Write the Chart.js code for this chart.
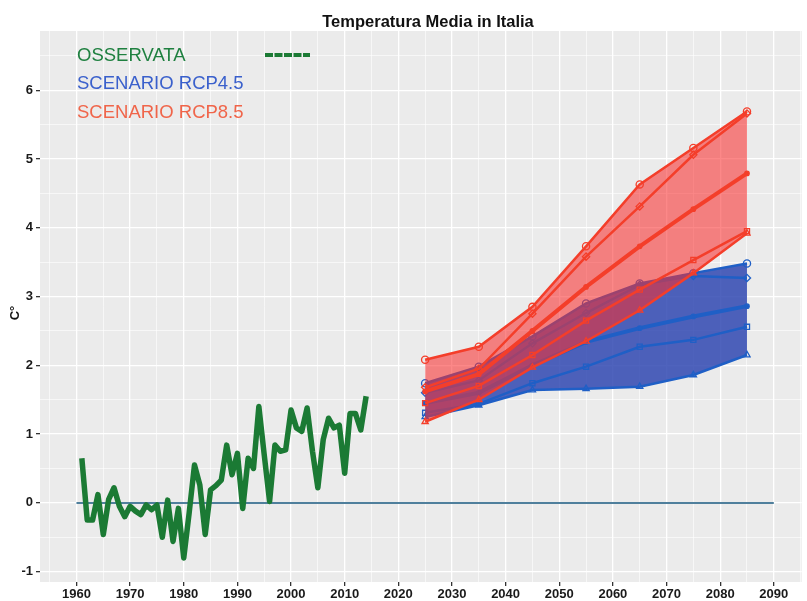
<!DOCTYPE html>
<html>
<head>
<meta charset="utf-8">
<script src="https://cdn.jsdelivr.net/npm/chart.js@4/dist/chart.umd.min.js"></script>
<style>
html,body{margin:0;padding:0;background:#fff;}
#wrap{width:807px;height:601px;position:relative;}
</style>
</head>
<body>
<div id="wrap"><canvas id="c" width="807" height="601"></canvas></div>
<script>
// ---- data ----
const obsYears = [1961,1962,1963,1964,1965,1966,1967,1968,1969,1970,1971,1972,1973,1974,1975,1976,1977,1978,1979,1980,
  1981,1982,1983,1984,1985,1986,1987,1988,1989,1990,1991,1992,1993,1994,1995,1996,1997,1998,1999,2000,
  2001,2002,2003,2004,2005,2006,2007,2008,2009,2010,2011,2012,2013,2014];
const obsValues = [0.65,-0.25,-0.25,0.12,-0.46,0.05,0.22,-0.05,-0.2,-0.05,-0.12,-0.17,-0.03,-0.1,-0.03,-0.5,0.04,-0.56,-0.08,-0.8,
  -0.15,0.55,0.26,-0.46,0.19,0.25,0.33,0.84,0.41,0.72,-0.08,0.65,0.5,1.4,0.7,0.02,0.84,0.75,0.77,1.35,
  1.09,1.04,1.38,0.75,0.22,0.92,1.23,1.09,1.13,0.43,1.3,1.3,1.06,1.55];

const projYears = [2025,2035,2045,2055,2065,2075,2085];
const rcp45Circle   = [1.74,1.98,2.42,2.90,3.19,3.34,3.48];
const rcp45Diamond  = [1.60,1.78,2.32,2.76,3.17,3.30,3.27];
const rcp45Median   = [1.45,1.60,2.00,2.34,2.54,2.71,2.86];
const rcp45Square   = [1.31,1.44,1.74,1.98,2.27,2.37,2.56];
const rcp45Triangle = [1.25,1.42,1.64,1.66,1.69,1.86,2.15];

const rcp85Circle   = [2.08,2.27,2.85,3.73,4.63,5.16,5.69];
const rcp85Diamond  = [1.68,1.95,2.75,3.58,4.31,5.06,5.66];
const rcp85Median   = [1.62,1.87,2.50,3.14,3.73,4.27,4.79];
const rcp85Square   = [1.45,1.70,2.15,2.65,3.10,3.53,3.95];
const rcp85Triangle = [1.18,1.50,1.97,2.35,2.80,3.34,3.92];

const zeroYears = [1960,2090];
const zeroValues = [0,0];

const xTickLabels = [1960,1970,1980,1990,2000,2010,2020,2030,2040,2050,2060,2070,2080,2090];
const yTickLabels = [-1,0,1,2,3,4,5,6];

const titleText = 'Temperatura Media in Italia';
const yTitle = 'C°';
const legendItems = ['OSSERVATA','SCENARIO RCP4.5','SCENARIO RCP8.5'];

// ---- helpers ----
const pts = (xs, ys) => xs.map((x,i)=>({x:x, y:ys[i]}));
const FONT = '"Liberation Sans", Arial, Helvetica, sans-serif';

const BLUE_LINE = '#1f5fc6';
const RED_LINE = '#f43e2a';
const BLUE_FILL = 'rgba(40,65,175,0.82)';
const RED_FILL = 'rgba(250,45,45,0.57)';
const GREEN = '#1b7a34';

function projSet(label, data, color, style, order, extra) {
  return Object.assign({
    label: label, data: data, borderColor: color, borderWidth: 2.5,
    pointStyle: style, pointRadius: style ? 3.6 : 0, pointBorderColor: color,
    pointBorderWidth: 1.3, pointBackgroundColor: 'rgba(0,0,0,0)',
    fill: false, tension: 0, order: order
  }, extra || {});
}

// minor grid values (midpoints between labelled ticks)
const xGridVals = [];
xTickLabels.forEach(v => { xGridVals.push(v - 5); xGridVals.push(v); });
xGridVals.push(2095);
const yGridVals = [];
yTickLabels.forEach(v => { yGridVals.push(v); yGridVals.push(v + 0.5); });

const datasets = [
  {label:'obs', data: pts(obsYears, obsValues), borderColor: GREEN, borderWidth: 5.5, pointRadius: 0,
   fill:false, tension:0, order:1, borderJoinStyle:'round'},
  {label:'zero', data: pts(zeroYears, zeroValues), borderColor:'#4f7f9c', borderWidth:2, pointRadius:0, fill:false, order:2},
  projSet('r85max', pts(projYears, rcp85Circle), RED_LINE, 'circle', 10, {fill: 6, backgroundColor: RED_FILL}),
  projSet('r85dia', pts(projYears, rcp85Diamond), RED_LINE, 'rectRot', 9),
  projSet('r85med', pts(projYears, rcp85Median), RED_LINE, 'circle', 9, {borderWidth:4, pointRadius:2.2, pointBackgroundColor: RED_LINE}),
  projSet('r85sq', pts(projYears, rcp85Square), RED_LINE, 'rect', 9),
  projSet('r85min', pts(projYears, rcp85Triangle), RED_LINE, 'triangle', 9),
  projSet('r45max', pts(projYears, rcp45Circle), BLUE_LINE, 'circle', 20, {fill: 11, backgroundColor: BLUE_FILL}),
  projSet('r45dia', pts(projYears, rcp45Diamond), BLUE_LINE, 'rectRot', 19),
  projSet('r45med', pts(projYears, rcp45Median), BLUE_LINE, 'circle', 19, {borderWidth:4, pointRadius:2.2, pointBackgroundColor: BLUE_LINE}),
  projSet('r45sq', pts(projYears, rcp45Square), BLUE_LINE, 'rect', 19),
  projSet('r45min', pts(projYears, rcp45Triangle), BLUE_LINE, 'triangle', 19)
];

const panelBg = {
  id:'panelBg',
  beforeDraw(chart){
    const a = chart.chartArea, ctx = chart.ctx;
    ctx.save();
    ctx.fillStyle = '#ebebeb';
    ctx.fillRect(a.left, a.top, a.right - a.left, a.bottom - a.top);
    ctx.restore();
  }
};

const annotations = {
  id:'annot',
  afterDraw(chart){
    const ctx = chart.ctx;
    ctx.save();
    ctx.fillStyle = '#111';
    ctx.font = 'bold 16.5px ' + FONT;
    ctx.textAlign = 'center';
    ctx.textBaseline = 'middle';
    ctx.fillText(titleText, 428, 22);
    ctx.save();
    ctx.translate(15, 313);
    ctx.rotate(-Math.PI/2);
    ctx.font = 'bold 13px ' + FONT;
    ctx.fillText(yTitle, 0, 0);
    ctx.restore();
    const cols = ['#1f8040', '#3a60cc', '#f0654a'];
    const ys = [56, 84, 113];
    ctx.font = '18.5px ' + FONT;
    ctx.textAlign = 'left';
    legendItems.forEach((t,i) => { ctx.fillStyle = cols[i]; ctx.fillText(t, 77, ys[i]); });
    ctx.strokeStyle = GREEN;
    ctx.lineWidth = 4;
    ctx.setLineDash([8,1.5]);
    ctx.beginPath();
    ctx.moveTo(265, 55); ctx.lineTo(310, 55);
    ctx.stroke();
    ctx.restore();
  }
};

const tickFont = {family: FONT, size: 13, weight: 'bold'};

new Chart(document.getElementById('c'), {
  type: 'line',
  data: { datasets: datasets },
  options: {
    responsive: false,
    animation: false,
    devicePixelRatio: 1,
    layout: { padding: {top: 31, left: 0, right: 0, bottom: 0} },
    plugins: { legend: {display:false}, title: {display:false}, tooltip: {enabled:false} },
    scales: {
      x: {
        type: 'linear', min: 1953.2, max: 2095.2,
        afterBuildTicks: s => { s.ticks = xGridVals.map(v => ({value: v})); },
        afterFit: s => { s.height = 19; },
        ticks: {
          autoSkip: false, maxRotation: 0, padding: 1, color: '#1a1a1a', font: tickFont,
          callback: v => (xTickLabels.includes(v) ? String(v) : '')
        },
        grid: {
          color: '#ffffff',
          lineWidth: c => (c.tick && xTickLabels.includes(c.tick.value)) ? 1.3 : 0.6,
          tickColor: c => (c.tick && xTickLabels.includes(c.tick.value)) ? '#333' : 'rgba(0,0,0,0)',
          tickLength: 4, drawTicks: true
        },
        border: {display: false}
      },
      y: {
        type: 'linear', min: -1.15, max: 6.86,
        afterBuildTicks: s => { s.ticks = yGridVals.filter(v => v >= -1.15 && v <= 6.86).map(v => ({value: v})); },
        afterFit: s => { s.width = 40; },
        ticks: {
          autoSkip: false, padding: 3, color: '#1a1a1a', font: tickFont,
          callback: v => (yTickLabels.includes(v) ? String(v) : '')
        },
        grid: {
          color: '#ffffff',
          lineWidth: c => (c.tick && yTickLabels.includes(c.tick.value)) ? 1.3 : 0.6,
          tickColor: c => (c.tick && yTickLabels.includes(c.tick.value)) ? '#333' : 'rgba(0,0,0,0)',
          tickLength: 4, drawTicks: true
        },
        border: {display: false}
      }
    }
  },
  plugins: [panelBg, annotations]
});
</script>
</body>
</html>
